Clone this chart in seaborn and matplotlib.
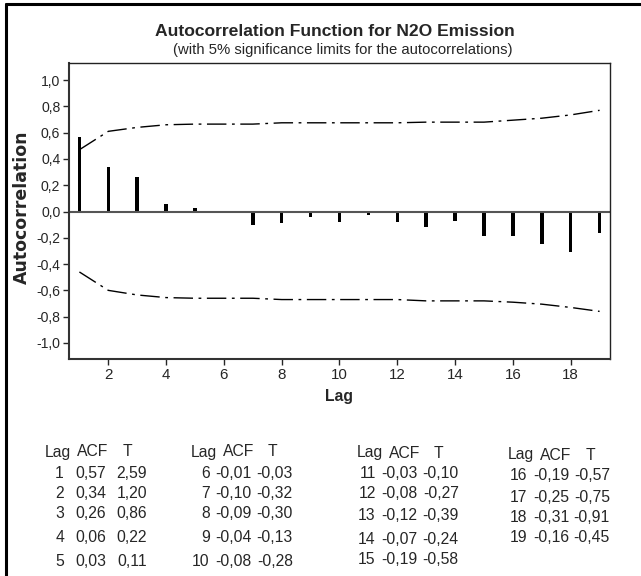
import numpy as np
import pandas as pd
import matplotlib
matplotlib.use('Agg')
import matplotlib.pyplot as plt
from matplotlib import font_manager as fm
from matplotlib.ticker import FuncFormatter
from matplotlib.lines import Line2D
import seaborn as sns

# dados
lags = list(range(1, 20))
acf = [0.57, 0.34, 0.26, 0.06, 0.03, -0.01, -0.10, -0.09, -0.04, -0.08,
       -0.03, -0.08, -0.12, -0.07, -0.19, -0.19, -0.25, -0.31, -0.16]
t_vals = [2.59, 1.20, 0.86, 0.22, 0.11, -0.03, -0.32, -0.30, -0.13, -0.28,
          -0.10, -0.27, -0.39, -0.24, -0.58, -0.57, -0.75, -0.91, -0.45]
upper = [0.47, 0.61, 0.64, 0.66, 0.665, 0.665, 0.665, 0.675, 0.675, 0.675,
         0.675, 0.675, 0.68, 0.68, 0.68, 0.695, 0.71, 0.735, 0.77]
lower = [-0.46, -0.60, -0.635, -0.655, -0.66, -0.66, -0.66, -0.67, -0.67, -0.67,
         -0.67, -0.67, -0.68, -0.68, -0.68, -0.69, -0.705, -0.73, -0.76]
x_ticks = [2, 4, 6, 8, 10, 12, 14, 16, 18]
y_ticks = [-1.0, -0.8, -0.6, -0.4, -0.2, 0.0, 0.2, 0.4, 0.6, 0.8, 1.0]

df = pd.DataFrame({'Lag': lags, 'ACF': acf, 'Upper': upper, 'Lower': lower})

sns.set_style('ticks')
# fonte estreita se existir, senao Liberation Sans menor
names = {f.name for f in fm.fontManager.ttflist}
if 'Liberation Sans Narrow' in names:
    main_font, k = 'Liberation Sans Narrow', 1.0
else:
    main_font, k = 'Liberation Sans', 0.84
plt.rcParams['font.family'] = [main_font, 'DejaVu Sans']

W, H = 641, 576
fig = plt.figure(figsize=(W / 100, H / 100), dpi=100)
ax = fig.add_axes([68.7 / W, 1 - 358.7 / H, (610.3 - 68.7) / W, (358.7 - 63) / H])

def px(x, y):
    return x / W, 1 - y / H

# barras da ACF
sns.barplot(data=df, x='Lag', y='ACF', native_scale=True, width=0.12,
            color='black', edgecolor='black', linewidth=0, ax=ax)
ax.axhline(0, color='#555555', lw=1.5, zorder=1)

# limites de significancia
dash = (0, (14, 4, 2, 4))
sns.lineplot(data=df, x='Lag', y='Upper', color='black', lw=1.0, linestyle=dash, ax=ax)
sns.lineplot(data=df, x='Lag', y='Lower', color='black', lw=1.0, linestyle=dash, ax=ax)

ax.set_xlim(0.63, 19.37)
ax.set_ylim(-1.12, 1.13)
ax.set_xticks(x_ticks)
ax.set_yticks(y_ticks)
ax.yaxis.set_major_formatter(FuncFormatter(lambda v, p: f'{v:.1f}'.replace('.', ',')))
ax.tick_params(axis='x', labelsize=13 * k, length=4, width=1, direction='out', pad=3)
ax.tick_params(axis='y', labelsize=12 * k, length=4, width=1, direction='out', pad=2)

for s in ['left', 'bottom']:
    ax.spines[s].set_linewidth(1.5)
    ax.spines[s].set_color('#333333')
for s in ['top', 'right']:
    ax.spines[s].set_linewidth(1.0)
    ax.spines[s].set_color('#222222')

ax.set_xlabel('Lag', fontsize=13.5 * k, fontweight='bold', labelpad=5)
ax.set_ylabel('')
fig.text(*px(21.5, 207), 'Autocorrelation', rotation=90, ha='center', va='center',
         fontsize=12.5, fontweight='bold', family='DejaVu Sans')

fig.text(*px(335, 31), 'Autocorrelation Function for N2O Emission', ha='center',
         va='center', fontsize=15 * k, fontweight='bold')
fig.text(*px(343, 50), '(with 5% significance limits for the autocorrelations)',
         ha='center', va='center', fontsize=12.8 * k)

# tabela de valores
bases = [45, 190.7, 356.7, 508]
head_y = [452, 452, 453, 455]
rows_y = [[473, 493, 514, 538, 561],
          [473, 493, 514, 538, 561],
          [473, 493, 516, 540, 560],
          [476, 497, 517, 537]]
fs = 13.5 * k
for g, b in enumerate(bases):
    fig.text(*px(b, head_y[g]), 'Lag', ha='left', va='center', fontsize=fs)
    fig.text(*px(b + 32, head_y[g]), 'ACF', ha='left', va='center', fontsize=fs)
    fig.text(*px(b + 82, head_y[g]), 'T', ha='center', va='center', fontsize=fs)
    idx = [i for i in range(len(lags)) if (lags[i] - 1) // 5 == g]
    for r, i in enumerate(idx):
        y = rows_y[g][r]
        fig.text(*px(b + 19, y), str(lags[i]), ha='right', va='center', fontsize=fs)
        fig.text(*px(b + 61, y), f'{acf[i]:.2f}'.replace('.', ','), ha='right',
                 va='center', fontsize=fs)
        fig.text(*px(b + 102, y), f'{t_vals[i]:.2f}'.replace('.', ','), ha='right',
                 va='center', fontsize=fs)

# moldura
fig.add_artist(Line2D([6 / W, 6 / W], [0, 1 - 4 / H], color='black', lw=2.2,
                      transform=fig.transFigure))
fig.add_artist(Line2D([6 / W, 1], [1 - 4 / H, 1 - 4 / H], color='black', lw=2.2,
                      transform=fig.transFigure))

fig.savefig('out.png', dpi=100)
